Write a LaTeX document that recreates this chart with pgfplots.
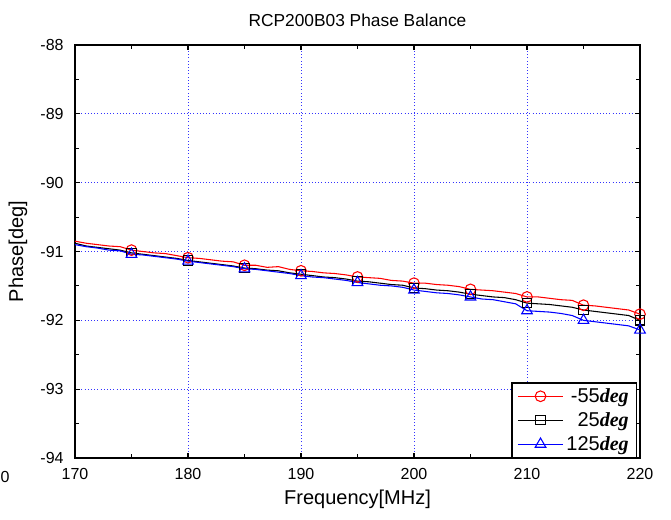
\documentclass[border=0pt]{standalone}
\usepackage{fontspec}
\setmainfont{Liberation Sans}
\newfontfamily\tms{Liberation Serif}
\usepackage{pgfplots}
\pgfplotsset{compat=1.18}

\pgfplotstableread{
f    m55     p25     p125
170  -90.85  -90.88  -90.90
171  -90.88  -90.92  -90.93
172  -90.90  -90.94  -90.95
173  -90.92  -90.96  -90.98
174  -90.93  -90.98  -90.99
175  -90.98  -91.02  -91.04
176  -91.00  -91.04  -91.05
177  -91.02  -91.06  -91.07
178  -91.03  -91.08  -91.09
179  -91.06  -91.10  -91.11
180  -91.09  -91.13  -91.14
181  -91.10  -91.15  -91.16
182  -91.12  -91.17  -91.18
183  -91.14  -91.19  -91.20
184  -91.15  -91.21  -91.22
185  -91.20  -91.24  -91.25
186  -91.20  -91.25  -91.26
187  -91.23  -91.27  -91.28
188  -91.22  -91.28  -91.30
189  -91.26  -91.31  -91.32
190  -91.28  -91.33  -91.35
191  -91.29  -91.35  -91.37
192  -91.31  -91.37  -91.38
193  -91.32  -91.38  -91.40
194  -91.34  -91.40  -91.42
195  -91.37  -91.43  -91.45
196  -91.38  -91.44  -91.47
197  -91.39  -91.46  -91.49
198  -91.42  -91.48  -91.50
199  -91.43  -91.49  -91.52
200  -91.46  -91.53  -91.56
201  -91.46  -91.54  -91.58
202  -91.48  -91.56  -91.60
203  -91.49  -91.57  -91.61
204  -91.51  -91.59  -91.63
205  -91.55  -91.62  -91.66
206  -91.56  -91.64  -91.69
207  -91.57  -91.66  -91.70
208  -91.59  -91.67  -91.73
209  -91.61  -91.70  -91.76
210  -91.66  -91.75  -91.86
211  -91.66  -91.76  -91.87
212  -91.68  -91.77  -91.88
213  -91.70  -91.79  -91.90
214  -91.71  -91.81  -91.93
215  -91.78  -91.85  -92.00
216  -91.79  -91.87  -92.02
217  -91.81  -91.89  -92.04
218  -91.83  -91.91  -92.06
219  -91.85  -91.93  -92.08
220  -91.91  -92.00  -92.14
}\phasedata

\begin{document}
\begin{tikzpicture}
% bounding box: 671x519 px at 0.75pt/px, axis box SW corner at (0,0)
\path[use as bounding box] (-56.25pt,-45.75pt) rectangle (447pt,343.5pt);
\begin{axis}[
  at={(0,0)}, anchor=south west,
  scale only axis,
  width=423.75pt, height=309.75pt,
  xmin=170, xmax=220, ymin=-94, ymax=-88,
  xtick={170,180,...,220},
  ytick={-94,-93,...,-88},
  minor x tick num=1,
  minor y tick num=1,
  tick align=inside,
  major tick length=4pt,
  minor tick length=3pt,
  every tick/.style={black, line width=0.8pt},
  axis line style={line width=1.5pt},
  grid=major,
  major grid style={blue!80, dotted, line width=0.7pt},
  tick label style={font=\fontsize{12}{14}\selectfont},
  xticklabel style={yshift=-4pt},
  yticklabel style={xshift=-5pt},
  /pgf/number format/assume math mode=true,
  /pgf/number format/1000 sep={},
  title={RCP200B03 Phase Balance},
  title style={font=\fontsize{13}{15}\selectfont, yshift=4pt},
  xlabel={Frequency[MHz]},
  ylabel={Phase[deg]},
  label style={font=\fontsize{15}{17}\selectfont},
  xlabel style={yshift=-1pt},
  ylabel style={yshift=3pt},
  legend cell align=right,
  legend style={at={(rel axis cs:0.995,0)}, anchor=south east,
    font=\fontsize{15}{17}\selectfont, draw=black, line width=0.8pt,
    row sep=2pt, inner sep=2pt, inner xsep=4pt,
    /tikz/every even column/.append style={column sep=5pt}},
  legend image code/.code={
    \draw[#1, mark repeat=2, mark phase=2] plot coordinates {(0pt,0pt) (17pt,0pt) (34pt,0pt)};
  },
]
\addplot[red, line width=0.8pt, mark=o, mark size=4pt, mark phase=6, mark repeat=5,
  mark options={solid, fill=white}] table[x=f, y=m55] {\phasedata};
\addlegendentry{-55{\tms\bfseries\itshape deg}}
\addplot[black, line width=0.8pt, mark=square, mark size=3.5pt, mark phase=6, mark repeat=5,
  mark options={solid, fill=white}] table[x=f, y=p25] {\phasedata};
\addlegendentry{25{\tms\bfseries\itshape deg}}
\addplot[blue, line width=0.8pt, mark=triangle, mark size=4.6pt, mark phase=6, mark repeat=5,
  mark options={solid, fill=white}] table[x=f, y=p125] {\phasedata};
\addlegendentry{125{\tms\bfseries\itshape deg}}
\end{axis}
\node[anchor=east, inner sep=0pt, font=\fontsize{12}{14}\selectfont] at (-49pt,-14pt) {0};
\end{tikzpicture}
\end{document}
